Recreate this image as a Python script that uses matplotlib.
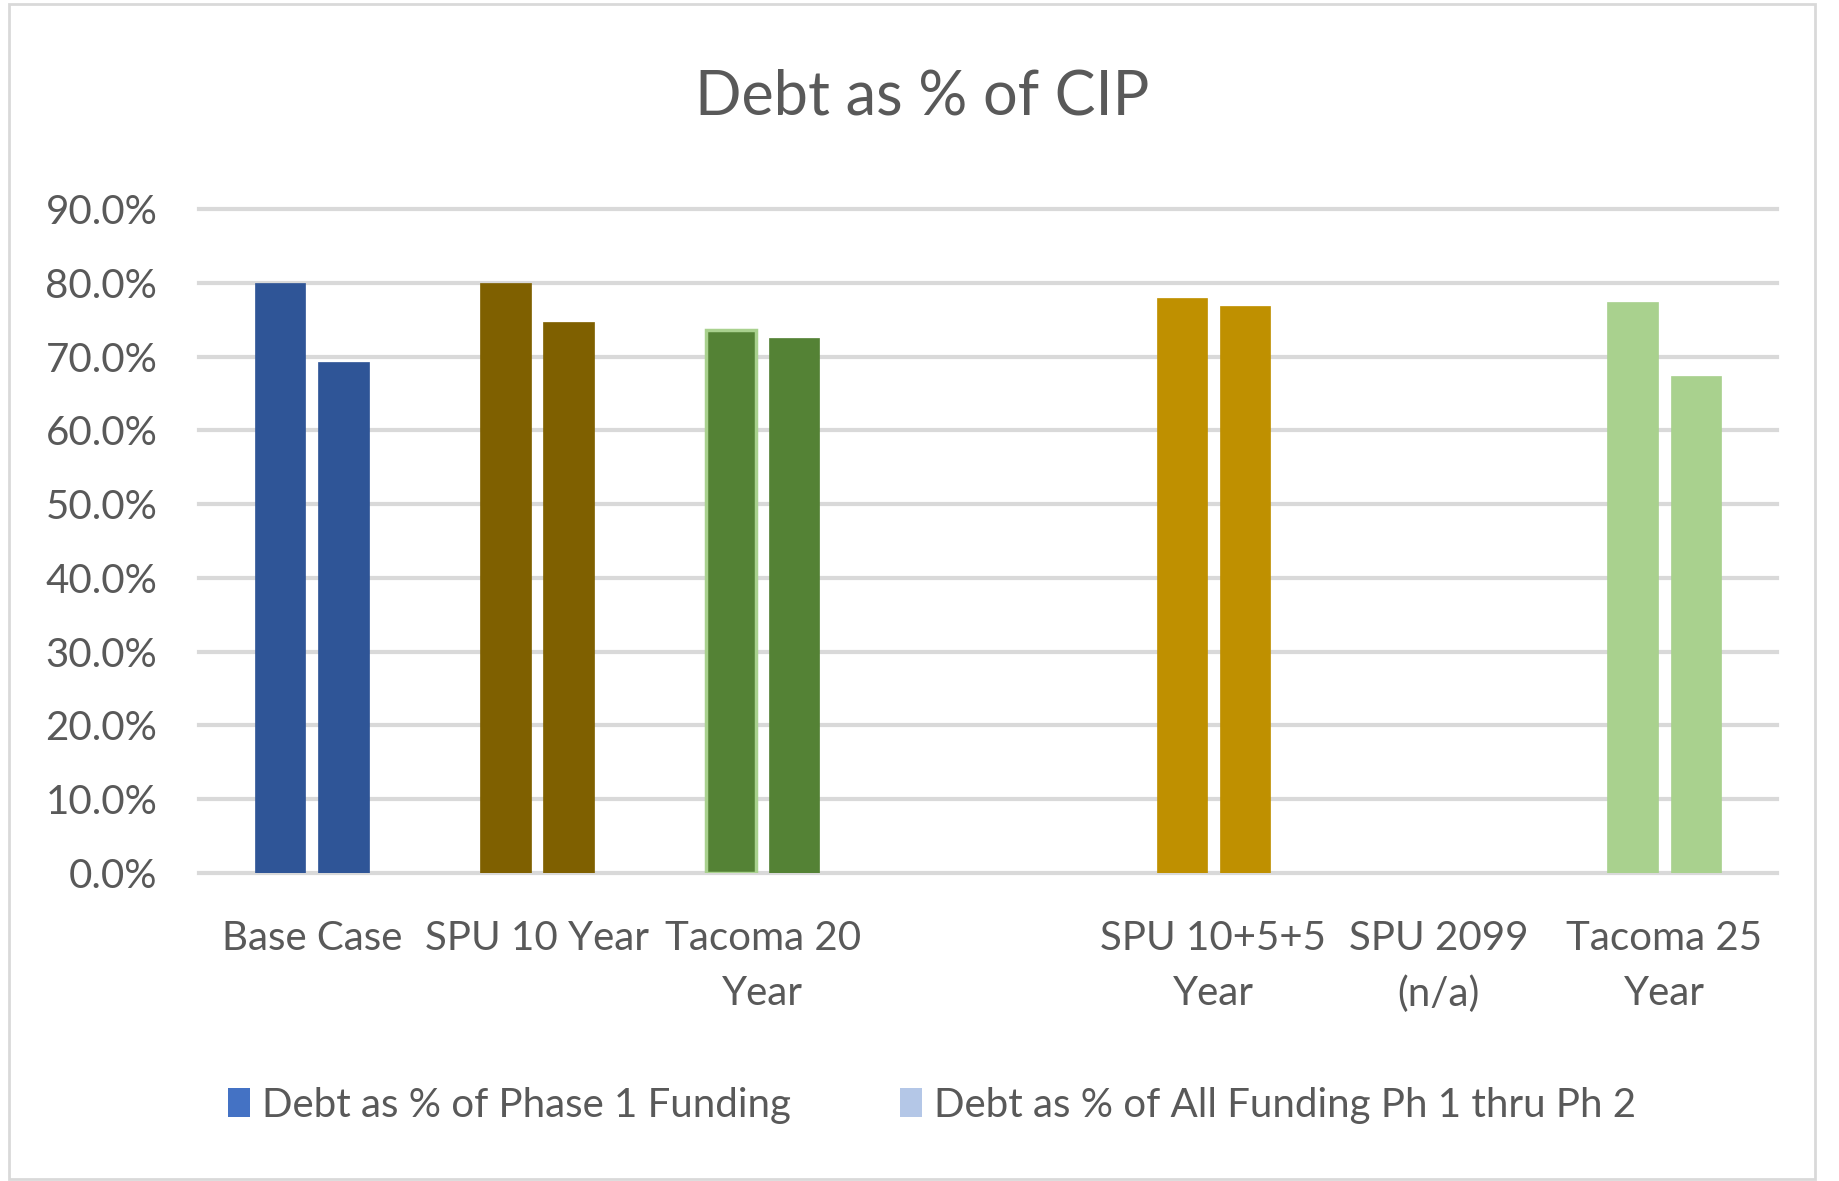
import numpy as np
import matplotlib
matplotlib.use('Agg')
import matplotlib.pyplot as plt
from matplotlib.patches import Patch, Rectangle

plt.rcParams['font.family'] = ['Lato', 'DejaVu Sans']

# data
categories = ['Base Case', 'SPU 10 Year', 'Tacoma 20\nYear', '',
              'SPU 10+5+5\nYear', 'SPU 2099\n(n/a)', 'Tacoma 25\nYear']
phase1 = [80.0, 80.0, 73.6, np.nan, 77.9, np.nan, 77.4]
all_funding = [69.3, 74.7, 72.5, np.nan, 76.8, np.nan, 67.4]
bar_colors = ['#2F5597', '#7F6000', '#548235', '#548235',
              '#BF9000', '#BF9000', '#A9D18E']
series_names = ['Debt as % of Phase 1 Funding', 'Debt as % of All Funding Ph 1 thru Ph 2']
legend_colors = ['#4472C4', '#B4C7E7']
yticks = [0, 10, 20, 30, 40, 50, 60, 70, 80, 90]

W, H = 1839, 1181
fig = plt.figure(figsize=(W / 100, H / 100), dpi=100)
fig.patch.set_facecolor('white')

# light frame around the chart area
fig.patches.append(Rectangle((9 / W, 0.002), (1815 - 9) / W, 0.995,
                             transform=fig.transFigure, fill=False,
                             edgecolor='#D9D9D9', linewidth=2))

ax = fig.add_axes([199 / W, 1 - 873 / H, (1777 - 199) / W, (873 - 209) / H])
txt = '#595959'

x = np.arange(len(categories))
bw = 0.224
off = 0.14
edges1 = ['#A9D18E' if i == 2 else c for i, c in enumerate(bar_colors)]
ax.bar(x - off, phase1, bw, color=bar_colors, edgecolor=edges1,
       linewidth=[2.5 if i == 2 else 0.5 for i in range(len(x))], zorder=3)
ax.bar(x + off, all_funding, bw, color=bar_colors, edgecolor=bar_colors,
       linewidth=0.5, zorder=3)

for t in yticks:
    ax.axhline(t, color='#D9D9D9', linewidth=3, zorder=1, clip_on=False)

ax.set_xlim(-0.5, len(categories) - 0.5)
ax.set_ylim(0, 90)
for s in ax.spines.values():
    s.set_visible(False)

ax.set_yticks(yticks)
ax.set_yticklabels([f'{t:.1f}%' for t in yticks], fontsize=29, color=txt)
ax.set_xticks(x)
ax.set_xticklabels(categories, fontsize=29, color=txt, linespacing=1.6, va='top')
ax.tick_params(axis='both', length=0)
ax.tick_params(axis='y', pad=30)
ax.tick_params(axis='x', pad=34)

fig.text(922 / W, 1 - 97 / H, 'Debt as % of CIP', fontsize=44, color=txt,
         ha='center', va='center')

handles = [Patch(facecolor=c) for c in legend_colors]
fig.legend(handles, series_names, loc='center', ncol=2, frameon=False,
           bbox_to_anchor=(932 / W, 1 - 1105 / H), fontsize=29,
           labelcolor=txt, handlelength=0.55, handleheight=0.75,
           handletextpad=0.3, columnspacing=2.7)

fig.savefig('out.png', dpi=100)
